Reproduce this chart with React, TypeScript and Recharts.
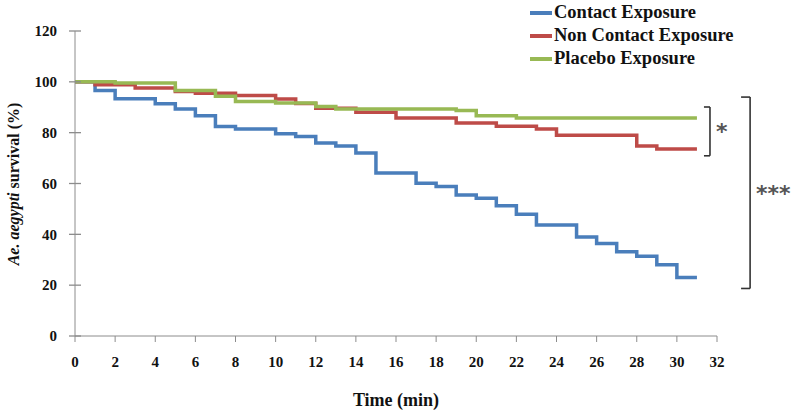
import React from 'react';
import { LineChart, Line, XAxis, YAxis, ReferenceLine } from 'recharts';

// Kaplan-Meier style survival curves
const contactTime = [0, 1, 2, 4, 5, 6, 7, 8, 10, 11, 12, 13, 14, 15, 17, 18, 19, 20, 21, 22, 23, 25, 26, 27, 28, 29, 30, 31];
const contactSurv = [100, 96.6, 93.3, 91.4, 89.3, 86.7, 82.4, 81.4, 79.6, 78.5, 75.9, 74.8, 72.0, 64.1, 60.1, 58.8, 55.5, 54.2, 51.2, 47.9, 43.7, 39.0, 36.4, 33.1, 31.4, 28.0, 23.0, 23.0];

const nonContactTime = [0, 1, 3, 5, 6, 8, 10, 11, 12, 14, 16, 19, 21, 23, 24, 28, 29, 31];
const nonContactSurv = [100, 98.9, 97.6, 96.2, 95.5, 94.6, 93.2, 91.5, 89.6, 88.0, 85.8, 83.8, 82.5, 81.4, 79.0, 74.8, 73.6, 73.6];

const placeboTime = [0, 2, 5, 7, 8, 10, 12, 13, 19, 20, 22, 31];
const placeboSurv = [100, 99.5, 96.6, 94.3, 92.3, 91.7, 90.3, 89.3, 88.7, 86.7, 85.8, 85.8];

const xTicks = [0, 2, 4, 6, 8, 10, 12, 14, 16, 18, 20, 22, 24, 26, 28, 30, 32];
const yTicks = [0, 20, 40, 60, 80, 100, 120];

const seriesNames = ['Contact Exposure', 'Non Contact Exposure', 'Placebo Exposure'];
const seriesColors = ['#4a7ebb', '#be4b48', '#98b954'];

const toPoints = (ts: number[], vs: number[]) => ts.map((t, i) => ({ t, v: vs[i] }));

const FONT = '"Liberation Serif", "Times New Roman", serif';
const AXIS = '#8c8c8c';

const YTick = (props: any) => {
  const { x, y, payload } = props;
  return (
    <g>
      <line x1={x + 12} x2={x + 24} y1={y} y2={y} stroke={AXIS} strokeWidth={1.3} />
      <text x={x} y={y} dy="0.35em" textAnchor="end" fontFamily={FONT} fontWeight="bold" fontSize={15} fill="#111">
        {payload.value}
      </text>
    </g>
  );
};

const YTitle = () => (
  <text
    x={19}
    y={184}
    transform="rotate(-90 19 184)"
    textAnchor="middle"
    fontFamily={FONT}
    fontWeight="bold"
    fontSize={16}
    fill="#111"
  >
    <tspan fontStyle="italic">Ae. aegypti</tspan>
    <tspan> survival (%)</tspan>
  </text>
);

const starLabel = (value: string, size: number) => ({
  value,
  position: 'right' as const,
  offset: 6,
  fill: '#555',
  fontSize: size,
  fontWeight: 'bold',
  fontFamily: '"DejaVu Sans", sans-serif',
});

export default function App() {
  const series = [
    toPoints(contactTime, contactSurv),
    toPoints(nonContactTime, nonContactSurv),
    toPoints(placeboTime, placeboSurv),
  ];

  return (
    <div style={{ position: 'absolute', left: 0, top: 0, width: 796, height: 414, background: '#fff' }}>
      <LineChart width={796} height={414} margin={{ top: 31, right: 79, bottom: 6, left: 15 }}>
        <XAxis
          dataKey="t"
          type="number"
          domain={[0, 32]}
          ticks={xTicks}
          allowDuplicatedCategory={false}
          height={72}
          stroke={AXIS}
          tickSize={6}
          tickMargin={14}
          tick={{ fontFamily: FONT, fontWeight: 'bold', fontSize: 15, fill: '#111' }}
          label={{ value: 'Time (min)', position: 'insideBottom', offset: 2, fontFamily: FONT, fontWeight: 'bold', fontSize: 18, fill: '#111' }}
        />
        <YAxis
          dataKey="v"
          type="number"
          domain={[0, 120]}
          ticks={yTicks}
          width={60}
          stroke={AXIS}
          tickLine={false}
          tickSize={0}
          tickMargin={18}
          tick={<YTick />}
          label={<YTitle />}
        />
        {series.map((d, i) => (
          <Line
            key={seriesNames[i]}
            data={d}
            dataKey="v"
            name={seriesNames[i]}
            type="stepAfter"
            stroke={seriesColors[i]}
            strokeWidth={3.5}
            dot={false}
            activeDot={false}
            isAnimationActive={false}
          />
        ))}
        {/* significance brackets */}
        <ReferenceLine segment={[{ x: 31.65, y: 90.1 }, { x: 31.65, y: 70.9 }]} stroke="#333" strokeWidth={1.6} ifOverflow="visible" label={starLabel('*', 22)} />
        <ReferenceLine segment={[{ x: 31.35, y: 90.1 }, { x: 31.65, y: 90.1 }]} stroke="#333" strokeWidth={1.6} ifOverflow="visible" />
        <ReferenceLine segment={[{ x: 31.35, y: 70.9 }, { x: 31.65, y: 70.9 }]} stroke="#333" strokeWidth={1.6} ifOverflow="visible" />
        <ReferenceLine segment={[{ x: 33.65, y: 94.0 }, { x: 33.65, y: 18.7 }]} stroke="#333" strokeWidth={1.6} ifOverflow="visible" label={starLabel('***', 22)} />
        <ReferenceLine segment={[{ x: 33.2, y: 94.0 }, { x: 33.65, y: 94.0 }]} stroke="#333" strokeWidth={1.6} ifOverflow="visible" />
        <ReferenceLine segment={[{ x: 33.2, y: 18.7 }, { x: 33.65, y: 18.7 }]} stroke="#333" strokeWidth={1.6} ifOverflow="visible" />
      </LineChart>
      <div
        style={{
          position: 'absolute',
          top: 1,
          left: 530,
          fontFamily: FONT,
          fontWeight: 'bold',
          fontSize: 18.5,
          color: '#111',
        }}
      >
        {seriesNames.map((n, i) => (
          <div key={n} style={{ display: 'flex', alignItems: 'center', height: 23 }}>
            <span style={{ display: 'inline-block', width: 22, height: 4, background: seriesColors[i], marginRight: 2 }} />
            <span>{n}</span>
          </div>
        ))}
      </div>
    </div>
  );
}
